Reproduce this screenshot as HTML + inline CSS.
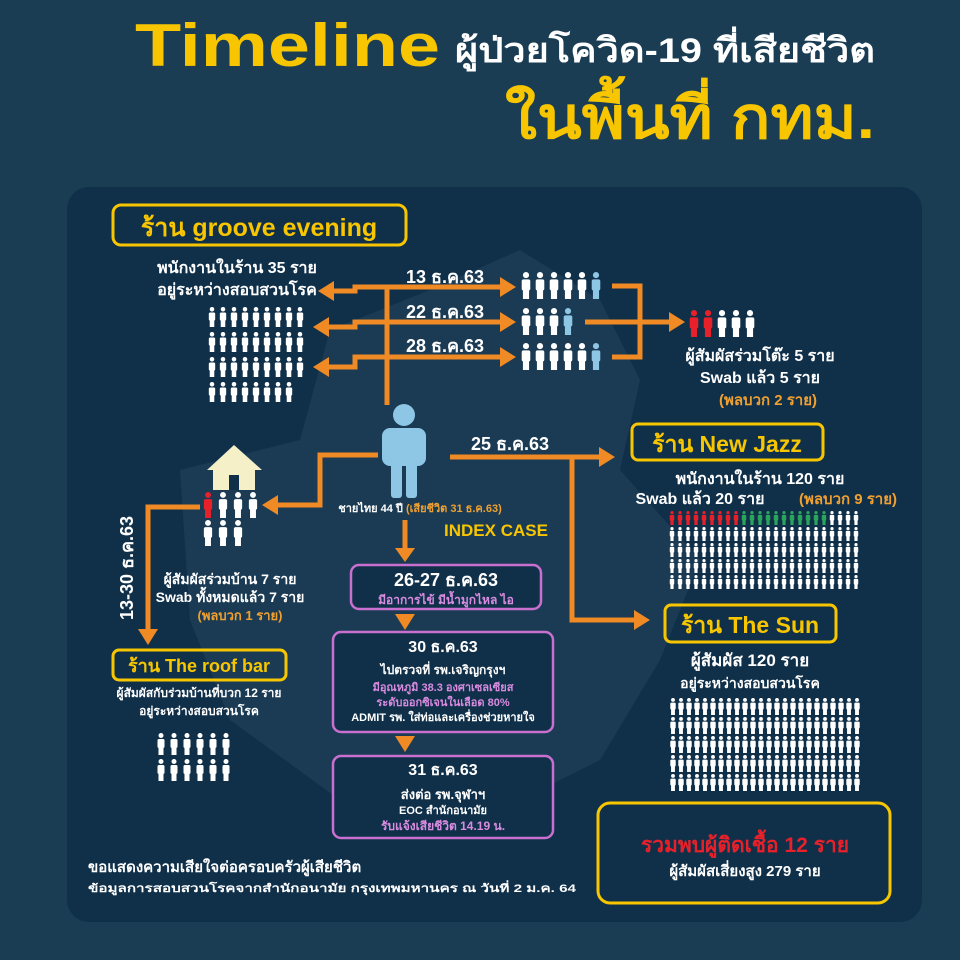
<!DOCTYPE html>
<html><head><meta charset="utf-8">
<style>
html,body{margin:0;padding:0;width:960px;height:960px;overflow:hidden;background:#183b52;}
svg{display:block}
text{font-family:"Liberation Sans","Noto Sans CJK SC",sans-serif;}
</style></head><body>
<svg id="s" width="960" height="960" viewBox="0 0 960 960" xmlns="http://www.w3.org/2000/svg">
<rect width="960" height="960" fill="#1a3d54"/>
<rect x="67" y="187" width="855" height="735" rx="22" fill="#10304a"/>
<path d="M180 470 L300 440 L330 330 L430 290 L520 250 L600 300 L640 380 L620 470 L700 560 L660 660 L600 760 L480 820 L340 800 L230 720 L190 620 Z" fill="#294a60" opacity="0.45"/>
<text x="135" y="66" font-size="60" font-weight="bold" fill="#f7c600" textLength="305" lengthAdjust="spacingAndGlyphs">Timeline</text>
<text x="455" y="62" font-size="34" font-weight="bold" fill="#fff" textLength="420" lengthAdjust="spacingAndGlyphs">ผู้ป่วยโควิด-19 ที่เสียชีวิต</text>
<text x="505" y="138" font-size="58" font-weight="bold" fill="#f7c600" textLength="370" lengthAdjust="spacingAndGlyphs">ในพื้นที่ กทม.</text>

<g fill="none" stroke="#f7c600" stroke-width="3">
<rect x="113" y="205" width="293" height="40" rx="8"/>
<rect x="632" y="424" width="191" height="36" rx="6"/>
<rect x="665" y="605" width="171" height="37" rx="6"/>
<rect x="113" y="650" width="173" height="30" rx="6"/>
<rect x="598" y="803" width="292" height="100" rx="12"/>
</g>
<g font-weight="bold" fill="#f7c600">
<text x="259" y="236" font-size="25" text-anchor="middle">ร้าน groove evening</text>
<text x="727" y="452" font-size="23" text-anchor="middle">ร้าน New Jazz</text>
<text x="750" y="633" font-size="23" text-anchor="middle">ร้าน The Sun</text>
<text x="199" y="672" font-size="18" text-anchor="middle">ร้าน The roof bar</text>
</g>

<g fill="#fff" font-weight="bold" text-anchor="middle">
<text x="237" y="273" font-size="16">พนักงานในร้าน 35 ราย</text>
<text x="237" y="295" font-size="16">อยู่ระหว่างสอบสวนโรค</text>
<text x="445" y="283" font-size="18">13 ธ.ค.63</text>
<text x="445" y="318" font-size="18">22 ธ.ค.63</text>
<text x="445" y="352" font-size="18">28 ธ.ค.63</text>
<text x="760" y="361" font-size="16">ผู้สัมผัสร่วมโต๊ะ 5 ราย</text>
<text x="760" y="383" font-size="16">Swab แล้ว 5 ราย</text>
<text x="768" y="405" font-size="15" fill="#f0a030">(พลบวก 2 ราย)</text>
<text x="510" y="450" font-size="18">25 ธ.ค.63</text>
<text x="760" y="484" font-size="16">พนักงานในร้าน 120 ราย</text>
<text x="700" y="504" font-size="16">Swab แล้ว 20 ราย</text>
<text x="848" y="504" font-size="15" fill="#f0a030">(พลบวก 9 ราย)</text>
<text x="750" y="666" font-size="17">ผู้สัมผัส 120 ราย</text>
<text x="750" y="688" font-size="14">อยู่ระหว่างสอบสวนโรค</text>
<text x="230" y="584" font-size="14">ผู้สัมผัสร่วมบ้าน 7 ราย</text>
<text x="230" y="602" font-size="14">Swab ทั้งหมดแล้ว 7 ราย</text>
<text x="240" y="620" font-size="13" fill="#f0a030">(พลบวก 1 ราย)</text>
<text x="199" y="697" font-size="12">ผู้สัมผัสกับร่วมบ้านที่บวก 12 ราย</text>
<text x="199" y="715" font-size="12">อยู่ระหว่างสอบสวนโรค</text>
<text x="420" y="512" font-size="11">ชายไทย 44 ปี <tspan fill="#f0a030">(เสียชีวิต 31 ธ.ค.63)</tspan></text>
<text x="496" y="536" font-size="17" fill="#f7c600">INDEX CASE</text>
<text x="133" y="568" font-size="18" transform="rotate(-90 133 568)">13-30 ธ.ค.63</text>
<text x="745" y="852" font-size="21" fill="#e8202a">รวมพบผู้ติดเชื้อ 12 ราย</text>
<text x="745" y="876" font-size="15">ผู้สัมผัสเสี่ยงสูง 279 ราย</text>
</g>
<text x="88" y="872" font-size="15" font-weight="bold" fill="#fff">ขอแสดงความเสียใจต่อครอบครัวผู้เสียชีวิต</text>
<text x="88" y="892" font-size="11" font-weight="bold" fill="#fff" textLength="488" lengthAdjust="spacingAndGlyphs">ข้อมูลการสอบสวนโรคจากสำนักอนามัย กรุงเทพมหานคร ณ วันที่ 2 ม.ค. 64</text>

<g fill="#10304a" stroke="#c86fd0" stroke-width="2.5">
<rect x="351" y="565" width="190" height="44" rx="8"/>
<rect x="333" y="632" width="220" height="100" rx="8"/>
<rect x="333" y="756" width="220" height="82" rx="8"/>
</g>
<g font-weight="bold" text-anchor="middle" fill="#fff">
<text x="446" y="586" font-size="18">26-27 ธ.ค.63</text>
<text x="446" y="604" font-size="12" fill="#d98be0">มีอาการไข้ มีน้ำมูกไหล ไอ</text>
<text x="443" y="652" font-size="16">30 ธ.ค.63</text>
<text x="443" y="674" font-size="12">ไปตรวจที่ รพ.เจริญกรุงฯ</text>
<text x="443" y="691" font-size="11" fill="#d98be0">มีอุณหภูมิ 38.3 องศาเซลเซียส</text>
<text x="443" y="706" font-size="11" fill="#d98be0">ระดับออกซิเจนในเลือด 80%</text>
<text x="443" y="721" font-size="11">ADMIT รพ. ใส่ท่อและเครื่องช่วยหายใจ</text>
<text x="443" y="775" font-size="16">31 ธ.ค.63</text>
<text x="443" y="799" font-size="13">ส่งต่อ รพ.จุฬาฯ</text>
<text x="443" y="814" font-size="11">EOC สำนักอนามัย</text>
<text x="443" y="830" font-size="12" fill="#d98be0">รับแจ้งเสียชีวิต 14.19 น.</text>
</g>

<g fill="none" stroke="#f08a24" stroke-width="5">
<path d="M387 285 V405"/>
<path d="M330 291 H355 V287 H505"/>
<path d="M325 327 H355 V322 H505"/>
<path d="M325 367 H355 V357 H505"/>
<path d="M612 286 H640 V357 H612"/>
<path d="M585 322 H675"/>
<path d="M450 457 H605"/>
<path d="M572 457 V620 H640"/>
<path d="M378 455 H320 V505 H270"/>
<path d="M200 507 H148 V635"/>
<path d="M405 520 V552"/>
</g>
<g fill="#f08a24">
<polygon points="318,291 334,281 334,301"/>
<polygon points="313,327 329,317 329,337"/>
<polygon points="313,367 329,357 329,377"/>
<polygon points="516,287 500,277 500,297"/>
<polygon points="516,322 500,312 500,332"/>
<polygon points="516,357 500,347 500,367"/>
<polygon points="685,322 669,312 669,332"/>
<polygon points="615,457 599,447 599,467"/>
<polygon points="650,620 634,610 634,630"/>
<polygon points="262,505 278,495 278,515"/>
<polygon points="148,645 138,629 158,629"/>
<polygon points="405,562 395,548 415,548"/>
<polygon points="405,630 395,614 415,614"/>
<polygon points="405,752 395,736 415,736"/>
</g>
<polygon points="207,470 234,445 262,470" fill="#f5f0c8"/>
<rect x="213" y="468" width="42" height="22" fill="#f5f0c8"/>
<rect x="229" y="475" width="10" height="15" fill="#10304a"/>
<g fill="#8ec6e6">
<circle cx="404" cy="415" r="11"/>
<rect x="382" y="428" width="44" height="38" rx="8"/>
<rect x="391" y="460" width="11" height="38" rx="3"/>
<rect x="406" y="460" width="11" height="38" rx="3"/>
</g>
<g id="ppl"></g>
</svg>
<script>
var g=document.getElementById('ppl'),ns='http://www.w3.org/2000/svg';
function p(x,y,h,c){var s=h/22;var e=document.createElementNS(ns,'g');e.setAttribute('fill',c);
e.innerHTML='<circle cx="'+x+'" cy="'+(y+2.5*s)+'" r="'+2.5*s+'"/><rect x="'+(x-3.5*s)+'" y="'+(y+6*s)+'" width="'+7*s+'" height="'+9*s+'" rx="'+1.5*s+'"/><rect x="'+(x-2.5*s)+'" y="'+(y+14*s)+'" width="'+5*s+'" height="'+8*s+'"/>';g.appendChild(e);}
function grid(x0,y0,dx,dy,counts,h,col){var k=0;for(var r=0;r<counts.length;r++)for(var c=0;c<counts[r];c++){p(x0+c*dx,y0+r*dy,h,col?col(k):'#fff');k++;}}
grid(212,307,11,25,[9,9,9,8],20);
grid(526,272,14,0,[6],27,function(k){return k==5?'#8ec6e6':'#fff'});
grid(526,308,14,0,[4],27,function(k){return k==3?'#8ec6e6':'#fff'});
grid(526,343,14,0,[6],27,function(k){return k==5?'#8ec6e6':'#fff'});
grid(694,310,14,0,[5],27,function(k){return k<2?'#e8202a':'#fff'});
grid(208,492,15,28,[4,3],26,function(k){return k==0?'#e8202a':'#fff'});
grid(672,511,8,16,[24,24,24,24,24],14,function(k){return k<9?'#e8202a':(k<20?'#2aa55a':'#fff')});
grid(673,698,8,19,[24,24,24,24,24],17);
grid(161,733,13,26,[6,6],22);
</script>
</body></html>
